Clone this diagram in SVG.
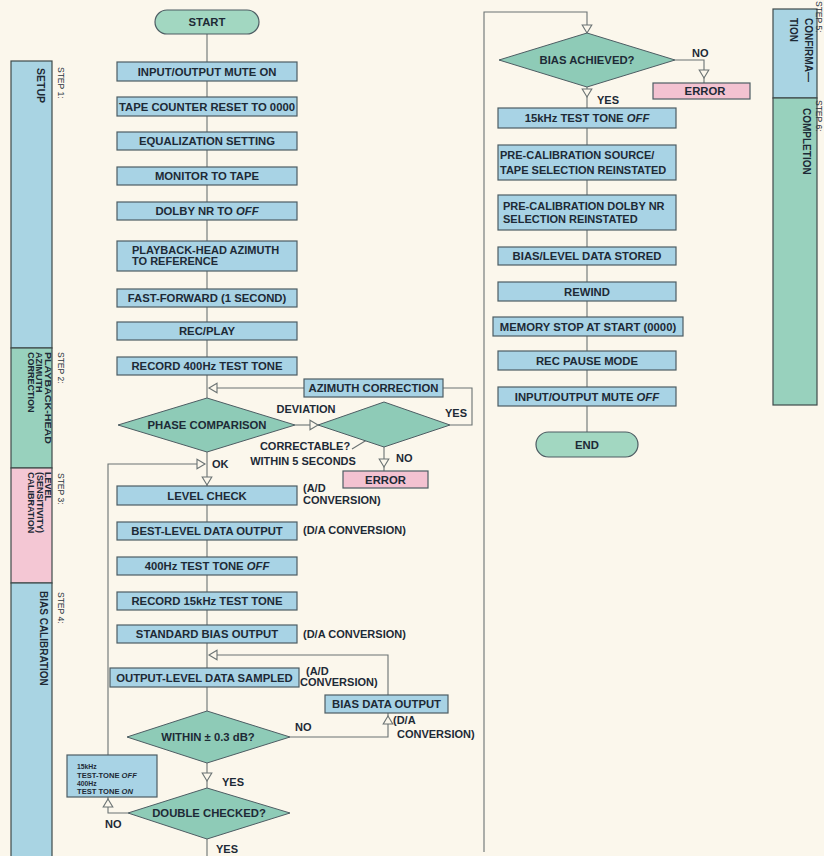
<svg xmlns="http://www.w3.org/2000/svg" xmlns:xlink="http://www.w3.org/1999/xlink" width="824" height="856" viewBox="0 0 824 856">
<style>
  .bg{fill:#fbf7ec}
  .box{fill:#a8d3e5;stroke:#4d5d63;stroke-width:1.2}
  .dia{fill:#8ecbb7;stroke:#4d5d63;stroke-width:1}
  .pill{fill:#a2d7c1;stroke:#4d5d63;stroke-width:1.2}
  .err{fill:#f3c2d1;stroke:#4d5d63;stroke-width:1.2}
  .sb-blue{fill:#a9d4e3;stroke:#3f4a4a;stroke-width:1.2}
  .sb-green{fill:#98d1bd;stroke:#3f4a4a;stroke-width:1.2}
  .sb-pink{fill:#f4c7d4;stroke:#3f4a4a;stroke-width:1.2}
  .ln{fill:none;stroke:#6b7373;stroke-width:1.1}
  .tri{fill:#fbf7ec;stroke:#6b7373;stroke-width:1.1}
  text{font-family:"Liberation Sans",Arial,Helvetica,sans-serif;font-weight:bold;fill:#1d2a36}
  .t{font-size:11.3px;text-anchor:middle}
  .tl{font-size:11px;text-anchor:start}
  .lb{font-size:11px;text-anchor:start}
  .lc{font-size:11px;text-anchor:middle}
  .sm{font-size:7.6px;text-anchor:start}
  .xs{font-size:6.8px;text-anchor:start}
  .st{font-size:8.5px;font-weight:normal;fill:#2a3540}
  .sl{font-size:10px}
  .sL{font-size:10.5px}
  .ss{font-size:9px}
  .it{font-style:italic}
</style>
<defs>
  <path id="tri" d="M0,0 L-8,-4.8 L-8,4.8 Z" class="tri"/>
</defs>
<rect class="bg" x="0" y="0" width="824" height="856"/>

<!-- left sidebar -->
<g id="sidebar-left">
  <rect class="sb-blue" x="11" y="61" width="41" height="287"/>
  <rect class="sb-green" x="11" y="348" width="41" height="120"/>
  <rect class="sb-pink" x="11" y="468" width="41" height="115"/>
  <rect class="sb-blue" x="11" y="583" width="41" height="290"/>
  <text class="st" transform="translate(58,67) rotate(90)">STEP 1:</text>
  <text class="sL" transform="translate(37,68) rotate(90)">SETUP</text>
  <text class="st" transform="translate(58,352) rotate(90)">STEP 2:</text>
  <text class="ss" transform="translate(44.5,352) rotate(90)" textLength="92" lengthAdjust="spacingAndGlyphs">PLAYBACK-HEAD</text>
  <text class="ss" transform="translate(36,352) rotate(90)">AZIMUTH</text>
  <text class="ss" transform="translate(27.5,352) rotate(90)">CORRECTION</text>
  <text class="st" transform="translate(58,473) rotate(90)">STEP 3:</text>
  <text class="ss" transform="translate(45,472) rotate(90)">LEVEL</text>
  <text class="ss" transform="translate(36.5,472) rotate(90)">(SENSITIVITY)</text>
  <text class="ss" transform="translate(28,472) rotate(90)">CALIBRATION</text>
  <text class="st" transform="translate(58,592) rotate(90)">STEP 4:</text>
  <text class="sl" transform="translate(39.5,591) rotate(90)">BIAS CALIBRATION</text>
</g>

<!-- right sidebar -->
<g id="sidebar-right">
  <rect class="sb-blue" x="773" y="9" width="44" height="89"/>
  <rect class="sb-green" x="773" y="98" width="44" height="307"/>
  <text class="st" transform="translate(816,1) rotate(90)">STEP 5:</text>
  <text class="sl" transform="translate(805,18) rotate(90)">CONFIRMA—</text>
  <text class="sl" transform="translate(789.5,18) rotate(90)">TION</text>
  <text class="st" transform="translate(816,100) rotate(90)">STEP 6:</text>
  <text class="sl" transform="translate(802.5,108) rotate(90)">COMPLETION</text>
</g>

<!-- connectors -->
<g id="connectors">
  <path class="ln" d="M207,34 V398"/>
  <path class="ln" d="M207,452 V486"/>
  <path class="ln" d="M207,505 V711"/>
  <path class="ln" d="M207,763 V788"/>
  <path class="ln" d="M207,839 V856"/>
  <path class="ln" d="M450,425 H472 V388 H443"/>
  <path class="ln" d="M304,388 H209"/>
  <path class="ln" d="M295,425 H318"/>
  <path class="ln" d="M384,447 V471"/>
  <path class="ln" d="M388,427 L352,449"/>
  <path class="ln" d="M108,755 V464 H205"/>
  <path class="ln" d="M128,813 H108 V797"/>
  <path class="ln" d="M290,737 H388 V713"/>
  <path class="ln" d="M388,695 V655 H209"/>
  <path class="ln" d="M484,852 V12 H587 V33"/>
  <path class="ln" d="M587,87 V108"/>
  <path class="ln" d="M587,128 V432"/>
  <path class="ln" d="M675,60 H704 V83"/>
  <use href="#tri" transform="translate(209,388) rotate(180)"/>
  <use href="#tri" transform="translate(318,425)"/>
  <use href="#tri" transform="translate(384,467) rotate(90)"/>
  <use href="#tri" transform="translate(205,464)"/>
  <use href="#tri" transform="translate(207,485) rotate(90)"/>
  <use href="#tri" transform="translate(209,655) rotate(180)"/>
  <use href="#tri" transform="translate(388,716) rotate(-90)"/>
  <use href="#tri" transform="translate(207,781) rotate(90)"/>
  <use href="#tri" transform="translate(108,799) rotate(-90)"/>
  <use href="#tri" transform="translate(587,33) rotate(90)"/>
  <use href="#tri" transform="translate(704,78) rotate(90)"/>
  <use href="#tri" transform="translate(587,97) rotate(90)"/>
  <text class="lc" x="306" y="413">DEVIATION</text>
  <text class="lb" x="445" y="417">YES</text>
  <text class="lc" x="305" y="450">CORRECTABLE?</text>
  <text class="lc" x="303" y="465">WITHIN 5 SECONDS</text>
  <text class="lb" x="396" y="462">NO</text>
  <text class="lb" x="212" y="468">OK</text>
  <text class="lb" x="303" y="492">(A/D</text>
  <text class="lb" x="303" y="504">CONVERSION)</text>
  <text class="lb" x="303" y="534">(D/A CONVERSION)</text>
  <text class="lb" x="303" y="638">(D/A CONVERSION)</text>
  <text class="lb" x="306" y="675">(A/D</text>
  <text class="lb" x="300" y="686">CONVERSION)</text>
  <text class="lb" x="295" y="731">NO</text>
  <text class="lb" x="393" y="724">(D/A</text>
  <text class="lb" x="397" y="738">CONVERSION)</text>
  <text class="lb" x="222" y="786">YES</text>
  <text class="lb" x="105" y="828">NO</text>
  <text class="lb" x="216" y="853">YES</text>
  <text class="lb" x="692" y="57">NO</text>
  <text class="lb" x="597" y="104">YES</text>
</g>

<!-- main column nodes -->
<g id="start"><rect class="pill" x="155" y="10" width="104" height="24" rx="12"/><text class="t" x="207" y="26">START</text></g>
<g id="io-mute-on"><rect class="box" x="117" y="62" width="180" height="19"/><text class="t" x="207" y="75.5">INPUT/OUTPUT MUTE ON</text></g>
<g id="tape-counter"><rect class="box" x="117" y="97" width="180" height="19"/><text class="t" x="207" y="110.5">TAPE COUNTER RESET TO 0000</text></g>
<g id="equalization"><rect class="box" x="117" y="132" width="180" height="18"/><text class="t" x="207" y="145">EQUALIZATION SETTING</text></g>
<g id="monitor"><rect class="box" x="117" y="167" width="180" height="18"/><text class="t" x="207" y="180">MONITOR TO TAPE</text></g>
<g id="dolby-off"><rect class="box" x="117" y="202" width="180" height="18"/><text class="t" x="207" y="215">DOLBY NR TO <tspan class="it">OFF</tspan></text></g>
<g id="azimuth-ref"><rect class="box" x="117" y="241" width="180" height="30"/><text class="tl" x="132" y="253.5">PLAYBACK-HEAD AZIMUTH</text><text class="tl" x="132" y="265">TO REFERENCE</text></g>
<g id="fast-forward"><rect class="box" x="117" y="289" width="180" height="18"/><text class="t" x="207" y="302">FAST-FORWARD (1 SECOND)</text></g>
<g id="rec-play"><rect class="box" x="117" y="322" width="180" height="18"/><text class="t" x="207" y="335">REC/PLAY</text></g>
<g id="record-400"><rect class="box" x="117" y="357" width="180" height="18"/><text class="t" x="207" y="370">RECORD 400Hz TEST TONE</text></g>
<g id="azimuth-correction"><rect class="box" x="304" y="379" width="139" height="18"/><text class="t" x="373.5" y="392">AZIMUTH CORRECTION</text></g>
<g id="phase-comparison"><polygon class="dia" points="118,425 207,398 295,425 207,452"/><text class="t" x="207" y="429">PHASE COMPARISON</text></g>
<g id="correctable"><polygon class="dia" points="318,425 384,402 450,425 384,447"/></g>
<g id="error-1"><rect class="err" x="343" y="471" width="85" height="17"/><text class="t" x="385.5" y="483.5">ERROR</text></g>
<g id="level-check"><rect class="box" x="117" y="486" width="180" height="19"/><text class="t" x="207" y="499.5">LEVEL CHECK</text></g>
<g id="best-level"><rect class="box" x="117" y="522" width="180" height="18"/><text class="t" x="207" y="535">BEST-LEVEL DATA OUTPUT</text></g>
<g id="tone-400-off"><rect class="box" x="117" y="557" width="180" height="18"/><text class="t" x="207" y="570">400Hz TEST TONE <tspan class="it">OFF</tspan></text></g>
<g id="record-15k"><rect class="box" x="117" y="592" width="180" height="18"/><text class="t" x="207" y="605">RECORD 15kHz TEST TONE</text></g>
<g id="standard-bias"><rect class="box" x="117" y="625" width="180" height="18"/><text class="t" x="207" y="638">STANDARD BIAS OUTPUT</text></g>
<g id="output-level"><rect class="box" x="110" y="668" width="189" height="19"/><text class="t" x="204.5" y="681.5">OUTPUT-LEVEL DATA SAMPLED</text></g>
<g id="bias-data-output"><rect class="box" x="325" y="695" width="123" height="18"/><text class="t" x="386.5" y="708">BIAS DATA OUTPUT</text></g>
<g id="within-03db"><polygon class="dia" points="127,737 207,711 290,737 207,763"/><text class="t" x="208" y="741">WITHIN  ± 0.3 dB?</text></g>
<g id="tone-switch"><rect class="box" x="67" y="755" width="90" height="42"/><text class="xs" x="77" y="769">15kHz</text><text class="sm" x="77" y="777.5">TEST-TONE <tspan class="it">OFF</tspan></text><text class="xs" x="77" y="786">400Hz</text><text class="sm" x="77" y="794">TEST TONE <tspan class="it">ON</tspan></text></g>
<g id="double-checked"><polygon class="dia" points="128,813 207,788 290,813 207,839"/><text class="t" x="209" y="817">DOUBLE CHECKED?</text></g>

<!-- right column nodes -->
<g id="bias-achieved"><polygon class="dia" points="499,60 587,33 675,60 587,87"/><text class="t" x="587" y="64">BIAS ACHIEVED?</text></g>
<g id="error-2"><rect class="err" x="653" y="83" width="97" height="16"/><text class="t" x="705" y="95">ERROR</text></g>
<g id="tone-15k-off"><rect class="box" x="498" y="108" width="178" height="20"/><text class="t" x="587" y="122">15kHz TEST TONE <tspan class="it">OFF</tspan></text></g>
<g id="source-tape"><rect class="box" x="498" y="145" width="178" height="35"/><text class="tl" x="500" y="159">PRE-CALIBRATION SOURCE/</text><text class="tl" x="500" y="173.5">TAPE SELECTION REINSTATED</text></g>
<g id="dolby-reinstated"><rect class="box" x="498" y="195" width="178" height="35"/><text class="tl" x="503" y="209.5">PRE-CALIBRATION DOLBY NR</text><text class="tl" x="503" y="222.5">SELECTION REINSTATED</text></g>
<g id="data-stored"><rect class="box" x="498" y="247" width="178" height="18"/><text class="t" x="587" y="260">BIAS/LEVEL DATA STORED</text></g>
<g id="rewind"><rect class="box" x="498" y="282" width="178" height="19"/><text class="t" x="587" y="295.5">REWIND</text></g>
<g id="memory-stop"><rect class="box" x="493" y="317" width="190" height="19"/><text class="t" x="588" y="330.5">MEMORY STOP AT START (0000)</text></g>
<g id="rec-pause"><rect class="box" x="498" y="351" width="178" height="19"/><text class="t" x="587" y="364.5">REC PAUSE MODE</text></g>
<g id="io-mute-off"><rect class="box" x="498" y="387" width="178" height="19"/><text class="t" x="587" y="400.5">INPUT/OUTPUT MUTE <tspan class="it">OFF</tspan></text></g>
<g id="end"><rect class="pill" x="536" y="432" width="102" height="25" rx="12.5"/><text class="t" x="587" y="448.5">END</text></g>
</svg>
